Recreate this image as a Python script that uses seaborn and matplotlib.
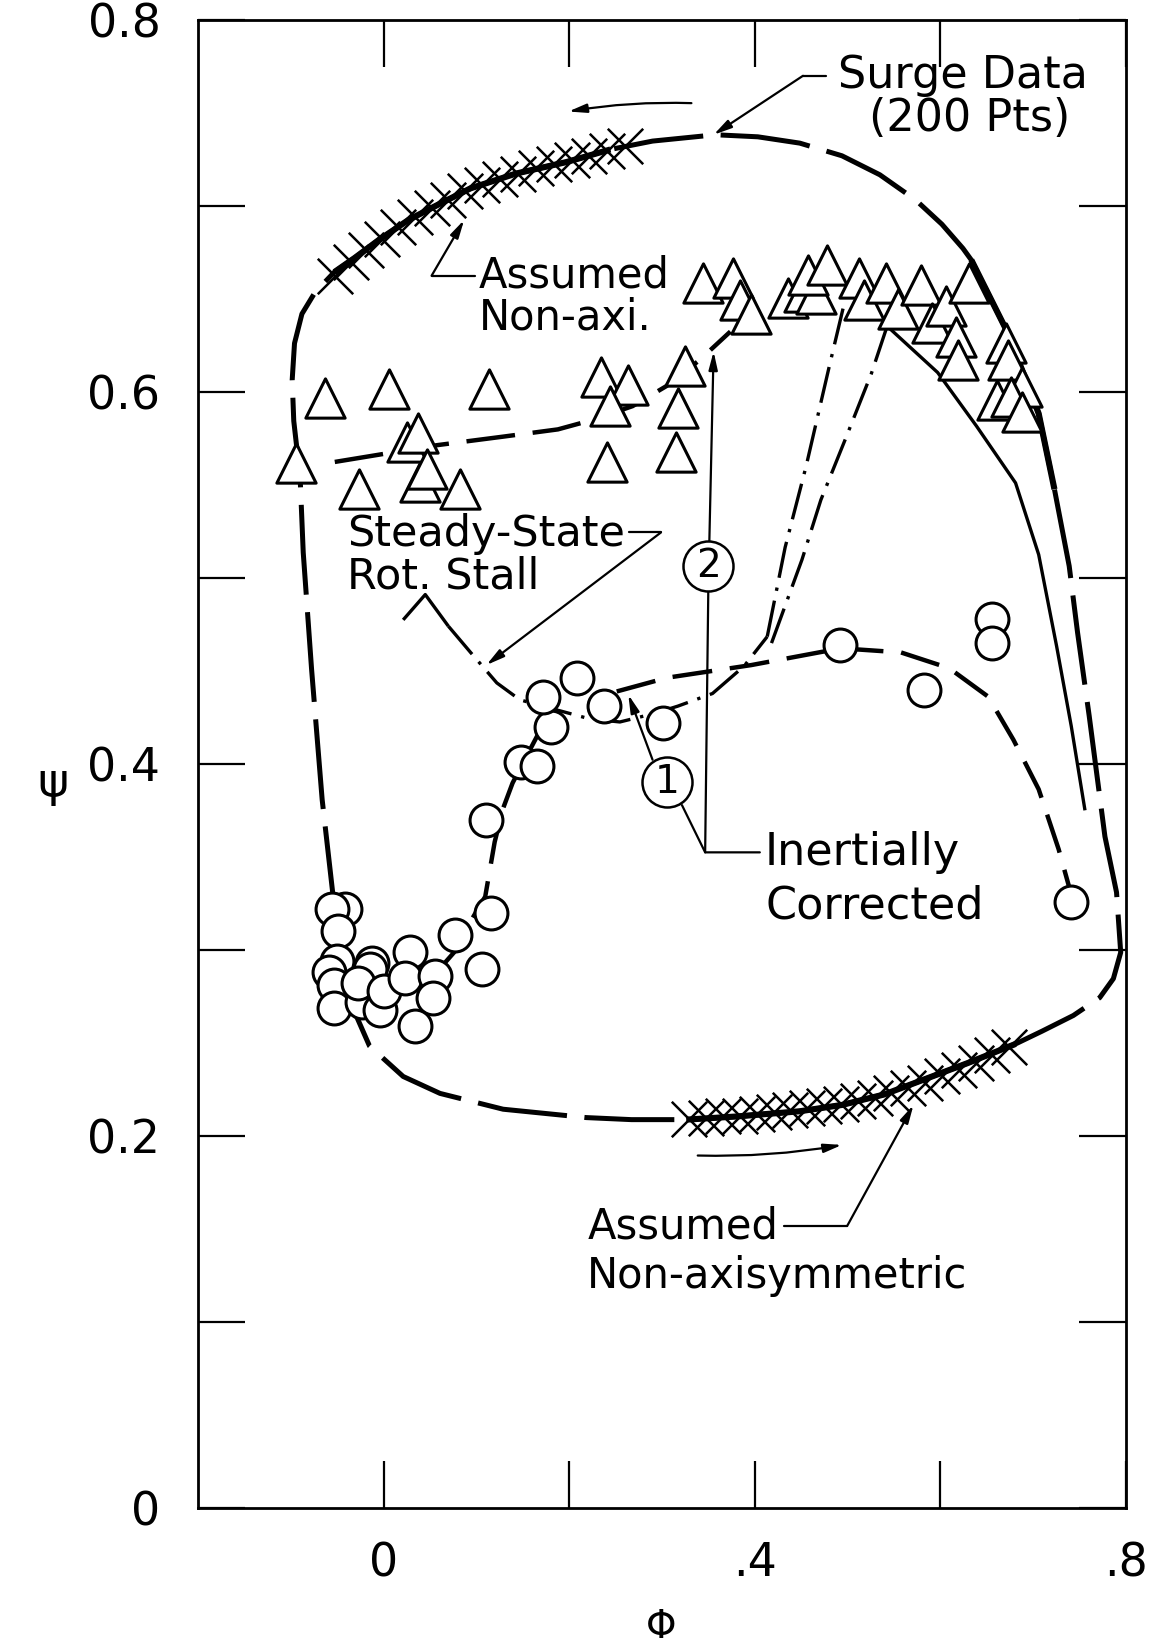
import matplotlib
matplotlib.use("Agg")
import matplotlib.pyplot as plt
import seaborn as sns

# ---------------- data ----------------
tri_phi = [-0.0946, -0.0628, 0.0063, 0.1141, -0.0265, 0.0256, 0.0370, 0.0392, 0.0472, 0.0823,
           0.2342, 0.2637, 0.2444, 0.2410, 0.3249, 0.3170, 0.3147, 0.3442, 0.3760, 0.3839,
           0.3964, 0.4361, 0.4531, 0.4655, 0.4576, 0.4780, 0.5120, 0.5177, 0.5415, 0.5540,
           0.5789, 0.5914, 0.6061, 0.6163, 0.6186, 0.6311, 0.6707, 0.6730, 0.6878, 0.6605,
           0.6764, 0.6878]
tri_psi = [0.5618, 0.5969, 0.6014, 0.6014, 0.5477, 0.5731, 0.5777, 0.5516, 0.5584, 0.5477,
           0.6082, 0.6037, 0.5924, 0.5624, 0.6139, 0.5912, 0.5675, 0.6586, 0.6614, 0.6495,
           0.6421, 0.6506, 0.6540, 0.6529, 0.6631, 0.6682, 0.6614, 0.6495, 0.6586, 0.6444,
           0.6574, 0.6371, 0.6461, 0.6297, 0.6173, 0.6586, 0.6263, 0.6173, 0.6025, 0.5958,
           0.5975, 0.5890]

circ_phi = [-0.042, -0.056, -0.049, -0.050, -0.059, -0.053, -0.053, -0.023, -0.004, -0.012,
            -0.015, -0.028, 0.000, 0.028, 0.023, 0.055, 0.053, 0.034, 0.077, 0.106,
            0.116, 0.110, 0.148, 0.165, 0.180, 0.172, 0.208, 0.237, 0.301, 0.492,
            0.582, 0.656, 0.656, 0.741]
circ_psi = [0.322, 0.322, 0.310, 0.294, 0.288, 0.281, 0.269, 0.272, 0.268, 0.293,
            0.290, 0.282, 0.278, 0.299, 0.285, 0.286, 0.274, 0.259, 0.308, 0.290,
            0.320, 0.370, 0.401, 0.399, 0.420, 0.436, 0.446, 0.431, 0.422, 0.464,
            0.440, 0.478, 0.465, 0.326]

# surge cycle (200 pts) faired loop
surge_phi = [-0.0503, -0.0549, -0.0662, -0.0776, -0.0866, -0.0900, -0.0968, -0.0985, -0.0960, -0.0880,
             -0.0740, -0.0530, -0.0311, -0.0050, 0.0268, 0.0574, 0.0937, 0.1424, 0.1968, 0.2444,
             0.2898, 0.3578, 0.4032, 0.4485, 0.4939, 0.5347, 0.5732, 0.6016, 0.6243, 0.6333,
             0.6730, 0.7059, 0.7229, 0.7388, 0.7478, 0.7603, 0.7773, 0.7898, 0.7943, 0.7864,
             0.7717, 0.7433, 0.7093, 0.6810, 0.6299, 0.5846, 0.5392, 0.4939, 0.4485, 0.3805,
             0.3261, 0.2671, 0.2184, 0.1288, 0.0608, 0.0211, -0.0152, -0.0311]
surge_psi = [0.3185, 0.3310, 0.3808, 0.4509, 0.5137, 0.5545, 0.5844, 0.6065, 0.6262, 0.6420,
             0.6535, 0.6645, 0.6721, 0.6818, 0.6925, 0.7004, 0.7095, 0.7174, 0.7236, 0.7304,
             0.7349, 0.7383, 0.7372, 0.7338, 0.7270, 0.7168, 0.7033, 0.6902, 0.6772, 0.6710,
             0.6314, 0.5884, 0.5477, 0.5064, 0.4707, 0.4260, 0.3610, 0.3310, 0.2987, 0.2846,
             0.2744, 0.2648, 0.2563, 0.2495, 0.2393, 0.2308, 0.2223, 0.2167, 0.2133, 0.2105,
             0.2088, 0.2088, 0.2099, 0.2144, 0.2229, 0.2320, 0.2484, 0.2665]
solid_spans = [(11, 20), (29, 33), (43, 51)]

# assumed non-axisymmetric (cross-hatched) points
hatch_top_phi = [-0.0526, -0.0356, -0.0186, -0.0016, 0.0154, 0.0336, 0.0517, 0.0698, 0.0880,
                 0.1061, 0.1254, 0.1447, 0.1639, 0.1832, 0.2025, 0.2218, 0.2410, 0.2603]
hatch_top_psi = [0.6625, 0.6699, 0.6761, 0.6823, 0.6885, 0.6942, 0.6987, 0.7033, 0.7078,
                 0.7112, 0.7146, 0.7174, 0.7202, 0.7225, 0.7248, 0.7270, 0.7298, 0.7321]
hatch_bot_phi = [0.3295, 0.3476, 0.3658, 0.3839, 0.4020, 0.4202, 0.4383, 0.4565, 0.4746, 0.4927,
                 0.5109, 0.5290, 0.5472, 0.5653, 0.5834, 0.6016, 0.6197, 0.6379, 0.6560, 0.6741]
hatch_bot_psi = [0.2093, 0.2099, 0.2105, 0.2110, 0.2116, 0.2127, 0.2139, 0.2150, 0.2161, 0.2173,
                 0.2190, 0.2206, 0.2229, 0.2257, 0.2286, 0.2320, 0.2354, 0.2393, 0.2433, 0.2478]

# inertially corrected curve (2) through triangles
c2_phi = [-0.0526, -0.0050, 0.0574, 0.1288, 0.1878, 0.2252, 0.2683, 0.3045, 0.3408, 0.3737]
c2_psi = [0.5624, 0.5663, 0.5714, 0.5760, 0.5799, 0.5850, 0.5924, 0.6031, 0.6173, 0.6325]

# inertially corrected curve (1) through circles
c1_phi = [0.2512, 0.3057, 0.3964, 0.4927, 0.5574, 0.6095, 0.6515, 0.6787, 0.7059, 0.7274, 0.7410]
c1_psi = [0.4390, 0.4464, 0.4532, 0.4622, 0.4600, 0.4515, 0.4362, 0.4130, 0.3864, 0.3542, 0.3298]
c1low_phi = [0.0630, 0.0789, 0.0948, 0.1095, 0.1197, 0.1288, 0.1390, 0.1503, 0.1651, 0.1764]
c1low_psi = [0.2914, 0.3004, 0.3163, 0.3287, 0.3581, 0.3762, 0.3898, 0.4006, 0.4147, 0.4249]

# steady-state rotating stall (dash-dot)
stall_phi = [0.0211, 0.0449, 0.0698, 0.0937, 0.1220, 0.1469, 0.1878, 0.2218, 0.2546, 0.2921,
             0.3170, 0.3544, 0.3884, 0.4134]
stall_psi = [0.4775, 0.4911, 0.4741, 0.4600, 0.4436, 0.4345, 0.4289, 0.4243, 0.4226, 0.4272,
             0.4311, 0.4379, 0.4526, 0.4685]
branchA_phi = [0.4134, 0.4327, 0.4553, 0.4803, 0.4973]
branchA_psi = [0.4685, 0.5165, 0.5601, 0.6139, 0.6495]
branchB_phi = [0.4180, 0.4508, 0.4712, 0.4973, 0.5256, 0.5426]
branchB_psi = [0.4650, 0.5098, 0.5420, 0.5743, 0.6099, 0.6354]
drop_phi = [0.5426, 0.5970, 0.6390, 0.6810, 0.7059, 0.7252, 0.7410, 0.7558]
drop_psi = [0.6354, 0.6105, 0.5816, 0.5511, 0.5126, 0.4634, 0.4204, 0.3751]

x_ticks = [0, 0.2, 0.4, 0.6, 0.8]
x_ticklabels = ['0', '', '.4', '', '.8']
y_ticks = [0, 0.1, 0.2, 0.3, 0.4, 0.5, 0.6, 0.7, 0.8]
y_ticklabels = ['0', '', '0.2', '', '0.4', '', '0.6', '', '0.8']

# ---------------- figure ----------------
sns.set_theme(style="white")
plt.rcParams['font.family'] = ['DejaVu Sans']
for key in ['text.color', 'axes.labelcolor', 'xtick.color', 'ytick.color', 'axes.edgecolor']:
    plt.rcParams[key] = 'black'

W, H = 1159, 1651
fig = plt.figure(figsize=(W / 100, H / 100), dpi=100)
ax = fig.add_axes([198 / W, 1 - 1508 / H, 928 / W, 1488 / H])
ax.set_xlim(-0.2, 0.8)
ax.set_ylim(0, 0.8)

K = 'black'

def line(xs, ys, lw, dashes=None, z=2):
    sns.lineplot(x=xs, y=ys, sort=False, estimator=None, color=K, lw=lw, ax=ax,
                 legend=False, zorder=z)
    ln = ax.lines[-1]
    ln.set_solid_capstyle('butt')
    ln.set_dash_capstyle('butt')
    ln.set_solid_joinstyle('round')
    if dashes is not None:
        ln.set_dashes(dashes)
    return ln

# surge loop: long dashes, solid where assumed non-axisymmetric
line(surge_phi, surge_psi, 3.6, dashes=(18, 3.5))
for a, b in solid_spans:
    line(surge_phi[a:b], surge_psi[a:b], 4.4)

# other curves
line(c2_phi, c2_psi, 3.2, dashes=(11, 4))
line(c1_phi, c1_psi, 3.2, dashes=(9, 4))
line(c1low_phi, c1low_psi, 3.2, dashes=(9, 4))
line(stall_phi[:3], stall_psi[:3], 2.4)
line(stall_phi[2:], stall_psi[2:], 2.4, dashes=(11, 3, 1, 3))
line(branchA_phi, branchA_psi, 2.4, dashes=(11, 3, 1, 3))
line(branchB_phi, branchB_psi, 2.4, dashes=(11, 3, 1, 3))
line(drop_phi, drop_psi, 2.4)

# markers
sns.scatterplot(x=hatch_top_phi, y=hatch_top_psi, marker='x', s=650, color=K,
                linewidth=1.8, ax=ax, zorder=3, legend=False)
sns.scatterplot(x=hatch_bot_phi, y=hatch_bot_psi, marker='x', s=650, color=K,
                linewidth=1.8, ax=ax, zorder=3, legend=False)
sns.scatterplot(x=tri_phi, y=tri_psi, marker='^', s=800, color='white', edgecolor=K,
                linewidth=2.2, ax=ax, zorder=4, legend=False)
sns.scatterplot(x=circ_phi, y=circ_psi, marker='o', s=560, color='white', edgecolor=K,
                linewidth=2.2, ax=ax, zorder=4, legend=False)

# ---------------- axes styling ----------------
for sp in ax.spines.values():
    sp.set_linewidth(2.0)
    sp.set_color(K)
ax.set_xticks(x_ticks)
ax.set_xticklabels(x_ticklabels)
ax.set_yticks(y_ticks)
ax.set_yticklabels(y_ticklabels)
ax.tick_params(axis='both', direction='in', length=34, width=1.6, color=K,
               top=True, right=True, bottom=True, left=True,
               labelsize=33, labelcolor=K)
ax.tick_params(axis='y', pad=27)
ax.tick_params(axis='x', pad=24)
ax.set_xlabel('Φ', fontsize=28, color=K, va='center')
ax.set_ylabel('ψ', fontsize=34, color=K, rotation=0, va='center', ha='center')
ax.xaxis.set_label_coords(0.499, -0.080)
ax.yaxis.set_label_coords(-0.156, 0.4866)

# ---------------- annotations ----------------
arr = dict(arrowstyle='-|>,head_length=0.9,head_width=0.22', lw=1.6, color=K,
           shrinkA=0, shrinkB=0)

# Surge Data
ax.text(0.6243, 0.7700, 'Surge Data', fontsize=32, ha='center', va='center')
ax.text(0.6320, 0.7468, '(200 Pts)', fontsize=32, ha='center', va='center')
ax.plot([0.4769, 0.4519], [0.7700, 0.7700], color=K, lw=1.6)
ax.annotate('', xy=(0.3556, 0.7383), xytext=(0.4519, 0.7700), arrowprops=arr)
# direction arrows on the loop
ax.annotate('', xy=(0.1991, 0.7508), xytext=(0.3317, 0.7553),
            arrowprops=dict(arr, connectionstyle='arc3,rad=0.05'))
ax.annotate('', xy=(0.4939, 0.1952), xytext=(0.3385, 0.1895),
            arrowprops=dict(arr, connectionstyle='arc3,rad=0.05'))

# Assumed Non-axi.
ax.text(0.1027, 0.6625, 'Assumed', fontsize=30, ha='left', va='center')
ax.text(0.1027, 0.6399, 'Non-axi.', fontsize=30, ha='left', va='center')
ax.plot([0.0982, 0.0517], [0.6625, 0.6625], color=K, lw=1.6)
ax.annotate('', xy=(0.0868, 0.6925), xytext=(0.0517, 0.6625), arrowprops=arr)

# Steady-State Rot. Stall
t_ss = ax.text(-0.039, 0.5239, 'Steady-State', fontsize=31, ha='left', va='center')
ax.text(-0.039, 0.5007, 'Rot. Stall', fontsize=31, ha='left', va='center')

# Inertially corrected (1) and (2)
ax.text(0.4111, 0.3525, 'Inertially', fontsize=32, ha='left', va='center')
ax.text(0.4111, 0.3236, 'Corrected', fontsize=32, ha='left', va='center')
ax.plot([0.4054, 0.3465, 0.3499], [0.3525, 0.3525, 0.4939], color=K, lw=1.6)
ax.plot([0.3465, 0.3215], [0.3525, 0.3779], color=K, lw=1.6)
ax.annotate('', xy=(0.3556, 0.6218), xytext=(0.3510, 0.5194), arrowprops=arr)
ax.annotate('', xy=(0.2637, 0.4373), xytext=(0.2898, 0.4023), arrowprops=arr)
for (cx, cy, lab) in [(0.3499, 0.5064, '2'), (0.3057, 0.3904, '1')]:
    ax.scatter([cx], [cy], s=36 ** 2, facecolor='white', edgecolor=K, linewidth=1.8, zorder=6)
    ax.text(cx, cy, lab, fontsize=28, ha='center', va='center', zorder=7)

# Assumed Non-axisymmetric
t_an = ax.text(0.2195, 0.1516, 'Assumed', fontsize=30, ha='left', va='center')
ax.text(0.2195, 0.1245, 'Non-axisymmetric', fontsize=30, ha='left', va='center')

# leaders that start right after a text
fig.canvas.draw()
inv = ax.transData.inverted()
bb = t_ss.get_window_extent()
xs0 = inv.transform((bb.x1 + 4, 0))[0]
ax.plot([xs0, max(xs0 + 0.03, 0.2989)], [0.5245, 0.5245], color=K, lw=1.6)
ax.annotate('', xy=(0.1107, 0.4532), xytext=(max(xs0 + 0.03, 0.2989), 0.5245), arrowprops=arr)
bb = t_an.get_window_extent()
xa0 = inv.transform((bb.x1 + 6, 0))[0]
ax.plot([xa0, 0.4995], [0.1516, 0.1516], color=K, lw=1.6)
ax.annotate('', xy=(0.5710, 0.2167), xytext=(0.4995, 0.1516), arrowprops=arr)

fig.savefig('out.png', dpi=100, facecolor='white')
